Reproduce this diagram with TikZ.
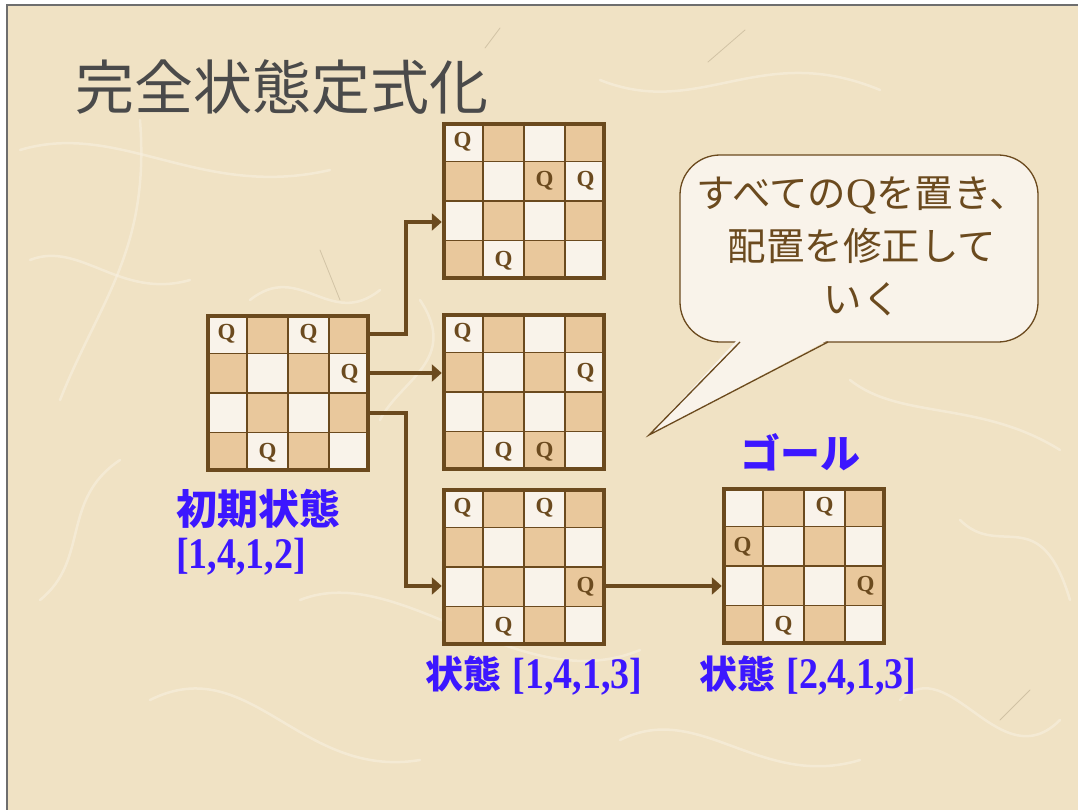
\documentclass[tikz,border=0pt]{standalone}
\usepackage{fontspec}
\newfontfamily\jp{Noto Sans CJK JP}
\newfontfamily\ser{Liberation Serif}
\usetikzlibrary{arrows.meta}
\definecolor{paper}{HTML}{F0E2C4}
\definecolor{paperlight}{HTML}{F8F0E0}
\definecolor{scratch}{HTML}{8A7A5C}
\definecolor{brn}{HTML}{6B4A1E}
\definecolor{tanc}{HTML}{E9C89C}
\definecolor{cream}{HTML}{F9F3EA}
\definecolor{lblue}{HTML}{3C17FF}
\definecolor{ttl}{HTML}{4A4A4A}
\tikzset{
  gridln/.style={draw=brn, line width=1.8pt},
  boardframe/.style={draw=brn, line width=4.5pt, minimum width=160pt, minimum height=154pt, inner sep=0pt},
  queen/.style={text=brn, font=\ser\bfseries\fontsize{23}{24}\selectfont, inner sep=0pt},
  arr/.style={draw=brn, line width=3.8pt, -{Triangle[length=10pt,width=17pt]}},
  blab/.style={text=lblue, inner sep=0pt},
  fiber/.style={draw=paperlight, line width=2.5pt, opacity=0.6, line cap=round},
  scr/.style={draw=scratch, line width=0.8pt, opacity=0.3, line cap=round},
}
\newcommand{\tall}[1]{\scalebox{1}[1.15]{#1}}
\newcommand{\qboard}[4]{%
  \fill[tanc] (#2,#3) rectangle ++(164,158);
  \foreach \r in {0,...,3}{\foreach \c in {0,...,3}{%
    \pgfmathtruncatemacro\pp{mod(\r+\c,2)}%
    \ifnum\pp=0 \fill[cream] (#2+41*\c,#3+39.5*\r) rectangle ++(41,39.5);\fi}}
  \foreach \i in {1,2,3}{%
    \draw[gridln] (#2+41*\i,#3) -- ++(0,158);
    \draw[gridln] (#2,#3+39.5*\i) -- ++(164,0);}
  \foreach \r/\c in {#4}{\node[queen] at (#2+41*\c-20.5,#3+39.5*\r-19.75) {Q};}
  \node[boardframe] (#1) at (#2+82,#3+79) {};
}
\begin{document}
\begin{tikzpicture}[x=1pt,y=-1pt]
\useasboundingbox (0,0) rectangle (1078,810);
% background
\fill[white] (0,0) rectangle (1078,810);
\fill[paper] (7,5) rectangle (1078,810);
\draw[fiber] (20,150) .. controls (120,120) and (200,200) .. (330,170);
\draw[fiber] (60,400) .. controls (100,300) and (150,250) .. (140,120);
\draw[fiber] (300,600) .. controls (400,560) and (520,700) .. (640,650);
\draw[fiber] (850,380) .. controls (900,420) and (980,400) .. (1060,450);
\draw[fiber] (900,700) .. controls (950,650) and (1000,780) .. (1060,720);
\draw[fiber] (150,700) .. controls (250,650) and (300,780) .. (420,760);
\draw[fiber] (600,80) .. controls (700,120) and (760,40) .. (880,90);
\draw[fiber] (40,600) .. controls (90,560) and (60,500) .. (120,460);
\draw[fiber] (960,520) .. controls (1000,560) and (1040,500) .. (1070,600);
\draw[fiber] (250,300) .. controls (300,260) and (330,330) .. (380,290);
\draw[fiber] (620,740) .. controls (700,700) and (760,790) .. (860,760);
\draw[fiber] (30,260) .. controls (80,240) and (120,300) .. (190,280);
\draw[fiber] (380,420) .. controls (400,380) and (460,360) .. (420,300);
\draw[scr] (708,62) -- (745,30);
\draw[scr] (485,48) -- (500,28);
\draw[scr] (513,542) -- (550,500);
\draw[scr] (1000,720) -- (1030,690);
\draw[scr] (320,250) -- (340,300);
\draw[draw=ttl!80, line width=1.5pt] (7,810) -- (7,5) -- (1078,5);
% title
\node[text=ttl, font=\jp\fontsize{59}{62}\selectfont, inner sep=0pt] (title) at (282,87) {完全状態定式化};
% boards
\qboard{init}{206}{314}{1/1,1/3,2/4,4/2}
\qboard{A}{442}{122}{1/1,2/3,2/4,4/2}
\qboard{B}{442}{313}{1/1,2/4,4/2,4/3}
\qboard{C}{442}{488}{1/1,1/3,3/4,4/2}
\qboard{G}{722}{487}{1/3,2/1,3/4,4/2}
% connectors
\draw[arr] ([yshift=59pt]init.east) -- ++(36,0) |- ([yshift=-21pt]A.west);
\draw[arr] ([yshift=20pt]init.east) -- ([yshift=20pt]init.east -| B.west);
\draw[arr] ([yshift=-20pt]init.east) -- ++(36,0) |- ([yshift=-19pt]C.west);
\draw[arr] ([yshift=-19pt]C.east) -- ([yshift=-19pt]C.east -| G.west);
% labels
\node[blab, anchor=west, font=\jp\bfseries\fontsize{41}{44}\selectfont] (l0) at (176,509) {初期状態};
\node[blab, anchor=west, font=\ser\bfseries\fontsize{38}{42}\selectfont] (l0b) at (176,557) {\tall{[1,4,1,2]}};
\node[blab, font=\jp\bfseries\fontsize{40}{44}\selectfont] (goallab) at (800,452) {ゴール};
\node[blab, font=\fontsize{38}{42}\selectfont] (lc) at (534,676) {{\jp\bfseries 状態} {\ser\bfseries\tall{[1,4,1,3]}}};
\node[blab, font=\fontsize{38}{42}\selectfont] (lg) at (808,676) {{\jp\bfseries 状態} {\ser\bfseries\tall{[2,4,1,3]}}};
% speech bubble
\draw[draw=brn, fill=cream, line width=1.3pt, rounded corners=40pt] (680,155) rectangle (1038,342);
\fill[cream] (738,339) -- (649,435) -- (830,339) -- cycle;
\draw[draw=brn, line width=1.3pt, line join=miter] (740,342) -- (649,435) -- (828,342);
\node[text=brn, align=center, inner sep=0pt, font=\jp\fontsize{38.5}{53}\selectfont] (bubble) at (862,246)
  {すべての{\ser\fontsize{42}{53}\selectfont Q}を置き、\\配置を修正して\\いく};
\end{tikzpicture}
\end{document}
